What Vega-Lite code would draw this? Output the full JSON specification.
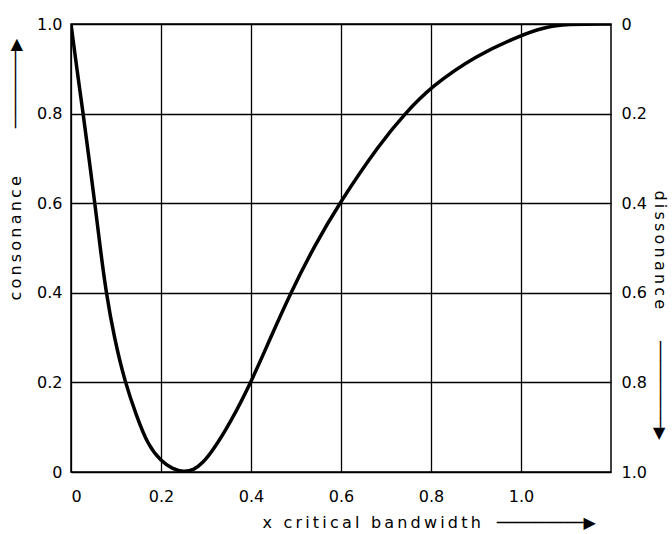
{
  "$schema": "https://vega.github.io/schema/vega-lite/v6.json",
  "width": 540,
  "height": 448,
  "autosize": "none",
  "padding": {"left": 71, "top": 24, "right": 61, "bottom": 62},
  "background": "white",
  "config": {
    "view": {"stroke": "black", "strokeWidth": 1.5},
    "font": "DejaVu Sans",
    "axis": {"labelColor": "black", "titleColor": "black", "labelFontSize": 16, "titleFontSize": 16, "titleFontWeight": "normal", "ticks": false, "domain": false}
  },
  "data": {
    "values": [
      {"x": 0.0, "consonance": 1.0},
      {"x": 0.013, "consonance": 0.9},
      {"x": 0.027, "consonance": 0.8},
      {"x": 0.04, "consonance": 0.7},
      {"x": 0.053, "consonance": 0.6},
      {"x": 0.065, "consonance": 0.5},
      {"x": 0.078, "consonance": 0.4},
      {"x": 0.096, "consonance": 0.3},
      {"x": 0.12, "consonance": 0.2},
      {"x": 0.146, "consonance": 0.124},
      {"x": 0.171, "consonance": 0.06},
      {"x": 0.2, "consonance": 0.024},
      {"x": 0.225, "consonance": 0.007},
      {"x": 0.25, "consonance": 0.0},
      {"x": 0.272, "consonance": 0.004},
      {"x": 0.293, "consonance": 0.02},
      {"x": 0.316, "consonance": 0.049},
      {"x": 0.353, "consonance": 0.108},
      {"x": 0.4, "consonance": 0.2},
      {"x": 0.44, "consonance": 0.292},
      {"x": 0.488, "consonance": 0.4},
      {"x": 0.54, "consonance": 0.503},
      {"x": 0.596, "consonance": 0.6},
      {"x": 0.687, "consonance": 0.734},
      {"x": 0.742, "consonance": 0.8},
      {"x": 0.8, "consonance": 0.86},
      {"x": 0.9, "consonance": 0.93},
      {"x": 1.0, "consonance": 0.975},
      {"x": 1.05, "consonance": 0.992},
      {"x": 1.1, "consonance": 1.0},
      {"x": 1.2, "consonance": 1.0}
    ]
  },
  "layer": [
    {
      "mark": {"type": "line", "color": "black", "strokeWidth": 3.5, "interpolate": "basis", "clip": true},
      "encoding": {
        "x": {
          "field": "x", "type": "quantitative",
          "scale": {"domain": [0, 1.2], "nice": false},
          "axis": {
            "values": [0, 0.2, 0.4, 0.6, 0.8, 1.0],
            "grid": true, "gridColor": "black", "gridWidth": 1.3, "gridOpacity": 1,
            "labelExpr": "datum.value == 0 ? '0' : format(datum.value, '.1f')",
            "labelPadding": 16,
            "title": "x\u2009 \u2009c\u2009r\u2009i\u2009t\u2009i\u2009c\u2009a\u2009l\u2009 \u2009b\u2009a\u2009n\u2009d\u2009w\u2009i\u2009d\u2009t\u2009h\u2003─────────▶",
            "titleAlign": "left", "titleAnchor": "start", "titleX": 191, "titleY": 50, "titleBaseline": "middle"
          }
        },
        "y": {
          "field": "consonance", "type": "quantitative",
          "scale": {"domain": [0, 1], "nice": false},
          "axis": {
            "values": [0, 0.2, 0.4, 0.6, 0.8, 1.0],
            "grid": true, "gridColor": "black", "gridWidth": 1.3, "gridOpacity": 1,
            "labelExpr": "datum.value == 0 ? '0\u00a0\u00a0' : format(datum.value, '.1f')",
            "labelPadding": 9,
            "title": "c\u2009o\u2009n\u2009s\u2009o\u2009n\u2009a\u2009n\u2009c\u2009e\u2003\u2003\u2003────────▶",
            "titleAngle": -90, "titleAlign": "left", "titleBaseline": "middle",
            "titleX": -56, "titleY": 276
          }
        }
      }
    },
    {
      "mark": {"type": "line", "opacity": 0},
      "encoding": {
        "x": {"field": "x", "type": "quantitative"},
        "y": {
          "field": "consonance", "type": "quantitative",
          "axis": {
            "orient": "right",
            "values": [0, 0.2, 0.4, 0.6, 0.8, 1.0],
            "grid": false,
            "labelExpr": "datum.value == 1 ? '0' : format(1 - datum.value, '.1f')",
            "labelPadding": 10,
            "title": "d\u2009i\u2009s\u2009s\u2009o\u2009n\u2009a\u2009n\u2009c\u2009e\u2003\u2003─────────▶",
            "titleAngle": 90, "titleAlign": "left", "titleBaseline": "middle",
            "titleX": 48, "titleY": 166
          }
        }
      }
    }
  ],
  "resolve": {"axis": {"y": "independent"}}
}
